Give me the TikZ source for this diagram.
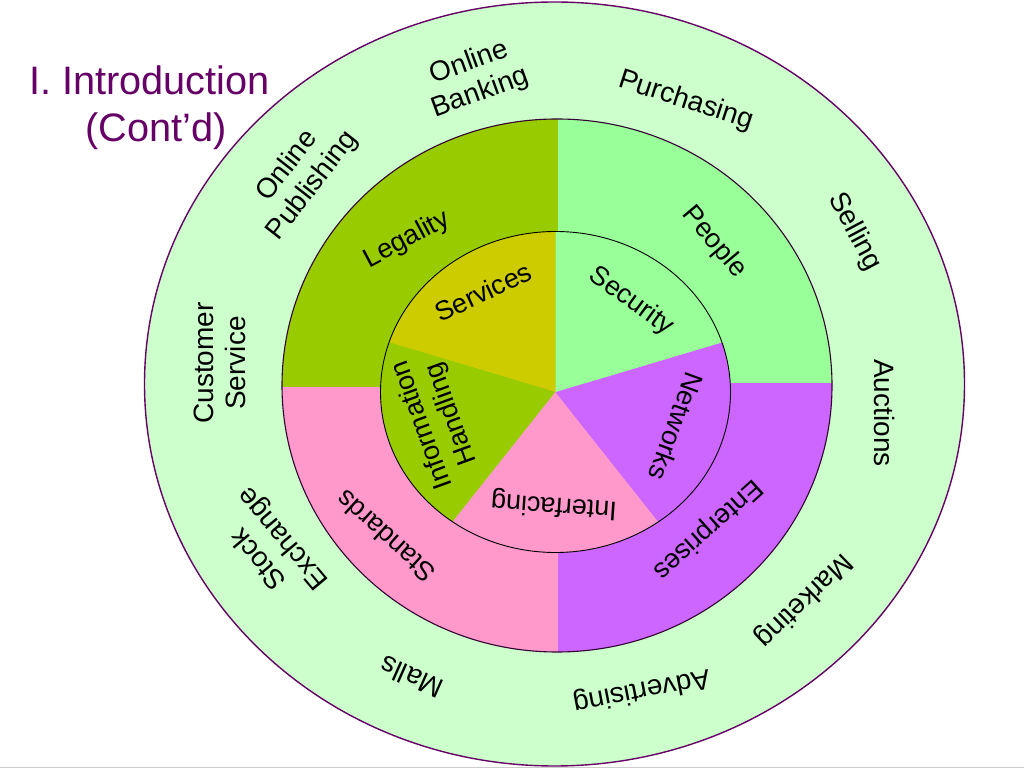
\documentclass[tikz,border=0pt]{standalone}
\usepackage{fontspec}
\setmainfont{Liberation Sans}
\definecolor{ringgreen}{HTML}{CCFFCC}
\definecolor{olivec}{HTML}{99CC00}
\definecolor{lightg}{HTML}{99FF99}
\definecolor{pinkc}{HTML}{FF99CC}
\definecolor{violetc}{HTML}{CC66FF}
\definecolor{servc}{HTML}{CCCC00}
\definecolor{titlec}{HTML}{660066}
\definecolor{midline}{HTML}{330033}
\begin{document}
\begin{tikzpicture}[x=1pt,y=1pt,
  ringlabel/.style={font=\fontsize{28}{32}\selectfont, align=center, inner sep=0pt},
  midlabel/.style={font=\fontsize{27}{31}\selectfont, align=center, inner sep=0pt},
  titlelabel/.style={font=\fontsize{39.7}{45}\selectfont, text=titlec, inner sep=0pt, anchor=base west}]
\useasboundingbox (0,0) rectangle (1024,768);
\fill[white] (0,0) rectangle (1024,768);
\draw[black!20, line width=1pt] (0,0.8) -- (1024,0.8);

% outer ring
\coordinate (oc) at (554.5,384);
\fill[ringgreen] (oc) ellipse [x radius=410pt, y radius=382pt];
\draw[titlec, line width=1.4pt] (oc) ellipse [x radius=410pt, y radius=382pt];

% middle ring quadrants
\coordinate (mc) at (557,382.5);
\begin{scope}
  \clip (mc) ellipse [x radius=275pt, y radius=266.5pt];
  \fill[olivec] (250,381) rectangle (557.5,700);
  \fill[pinkc] (250,60) rectangle (557.5,381);
  \fill[lightg] (557.5,385) rectangle (860,700);
  \fill[violetc] (557.5,60) rectangle (860,385);
\end{scope}
\draw[midline, line width=1.1pt] (mc) ellipse [x radius=275pt, y radius=266.5pt];

% inner pie
\coordinate (pc) at (555.5,376);
\fill[servc] (pc) -- ++(90:175pt and 160.5pt) arc[start angle=90, end angle=162, x radius=175pt, y radius=160.5pt] -- cycle;
\fill[olivec] (pc) -- ++(162:175pt and 160.5pt) arc[start angle=162, end angle=234, x radius=175pt, y radius=160.5pt] -- cycle;
\fill[pinkc] (pc) -- ++(234:175pt and 160.5pt) arc[start angle=234, end angle=306, x radius=175pt, y radius=160.5pt] -- cycle;
\fill[violetc] (pc) -- ++(306:175pt and 160.5pt) arc[start angle=306, end angle=378, x radius=175pt, y radius=160.5pt] -- cycle;
\fill[lightg] (pc) -- ++(18:175pt and 160.5pt) arc[start angle=18, end angle=90, x radius=175pt, y radius=160.5pt] -- cycle;
\draw[black, line width=0.9pt] (pc) ellipse [x radius=175pt, y radius=160.5pt];

% title
\node[titlelabel] (t1) at (29,673) {I. Introduction};
\node[titlelabel] (t2) at (85,626) {(Cont’d)};

% outer ring labels
\node[ringlabel, rotate=20] (ob) at (475,690) {Online\\Banking};
\node[ringlabel, rotate=52] (op) at (300,592) {Online\\Publishing};
\node[ringlabel, rotate=90] (cs) at (220,405) {Customer\\Service};
\node[ringlabel, rotate=130] (se) at (272,220) {Stock\\Exchange};
\node[ringlabel, rotate=156] (ma) at (411.5,90.5) {Malls};
\node[ringlabel, rotate=191] (ad) at (641.5,78) {Advertising};
\node[ringlabel, rotate=224] (mk) at (803.5,168) {Marketing};
\node[ringlabel, rotate=-90] (au) at (884,355) {Auctions};
\node[ringlabel, rotate=-62] (sl) at (854.5,536) {Selling};
\node[ringlabel, rotate=-18] (pu) at (686,667) {Purchasing};

% middle ring labels
\node[midlabel, rotate=28] (le) at (407,528) {Legality};
\node[midlabel, rotate=-50] (pe) at (714,526) {People};
\node[midlabel, rotate=222] (en) at (707.5,239) {Enterprises};
\node[midlabel, rotate=138] (st) at (385.5,231.5) {Standards};

% inner labels
\node[midlabel, rotate=25] (sv) at (483,476) {Services};
\node[midlabel, rotate=-36] (sc) at (631,466.5) {Security};
\node[midlabel, rotate=-110] (nw) at (676.5,341.5) {Networks};
\node[midlabel, rotate=176] (if) at (554,263) {Interfacing};
\node[midlabel, rotate=110] (ih) at (437,348.5) {Information\\Handling};
\end{tikzpicture}
\end{document}
